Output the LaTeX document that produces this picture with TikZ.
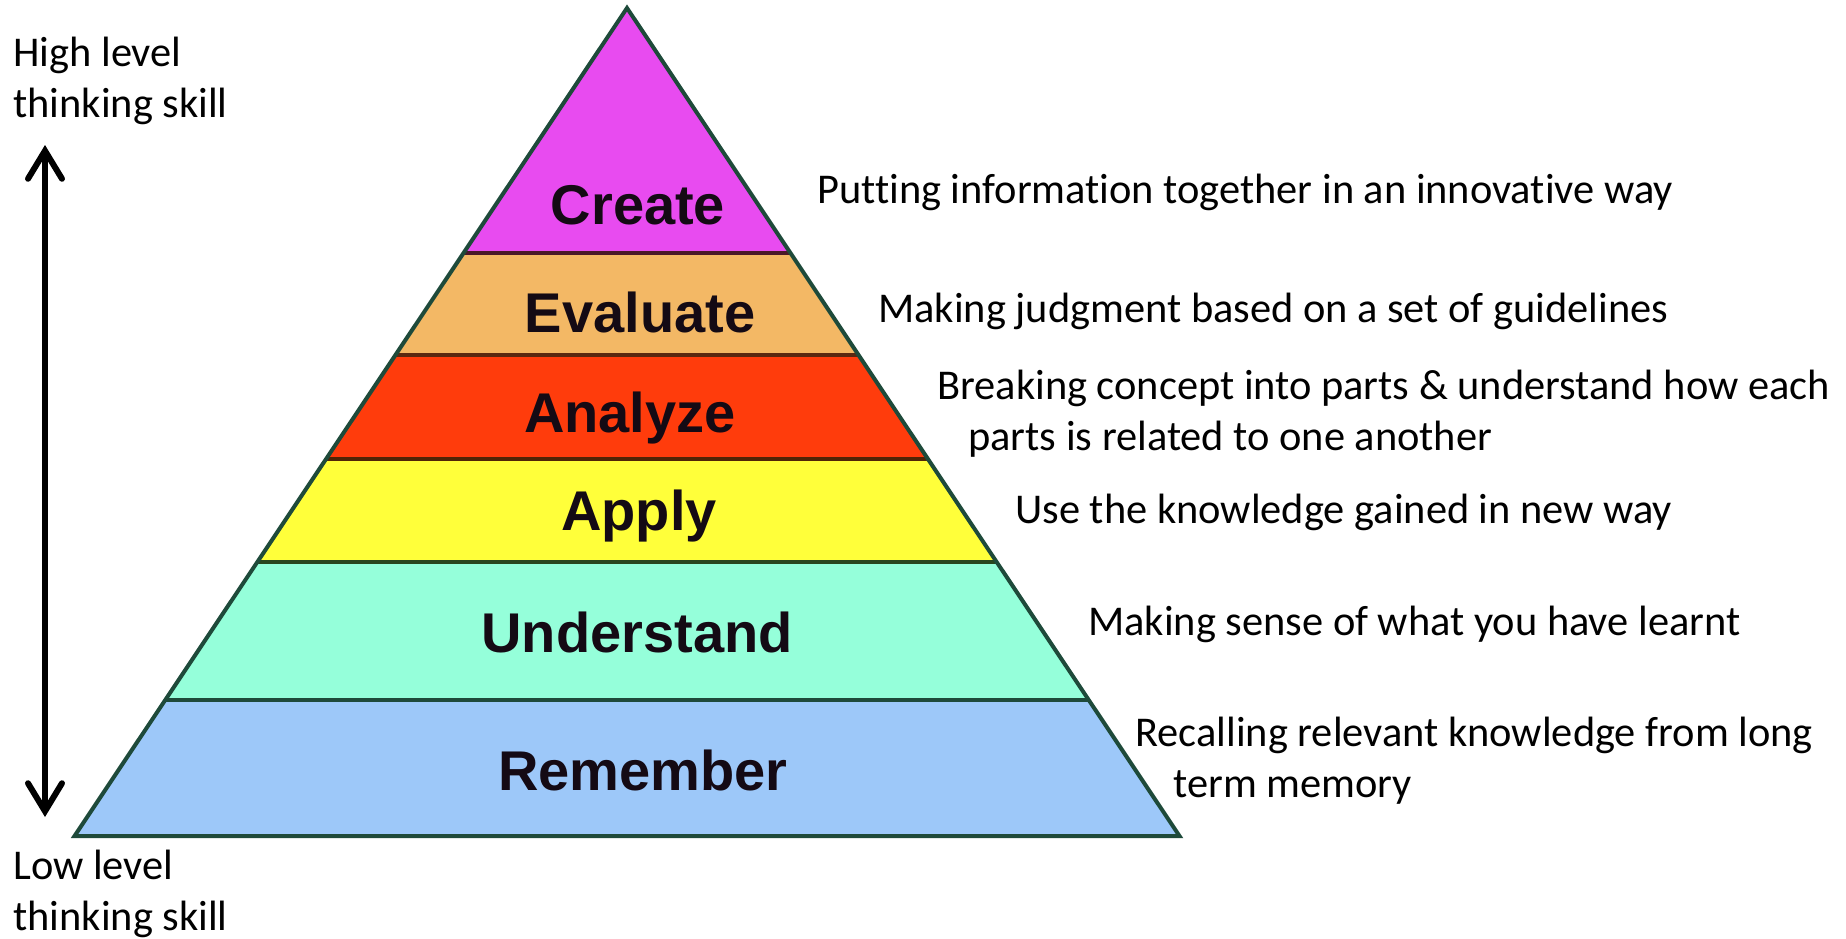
\documentclass[tikz,border=0pt]{standalone}
\usepackage{fontspec}
\setmainfont{Carlito}[Ligatures=NoCommon]
\newfontfamily\lblfont{Liberation Sans}
\usetikzlibrary{arrows.meta}
\definecolor{cCreate}{HTML}{E84BF0}
\definecolor{cEvaluate}{HTML}{F3B865}
\definecolor{cAnalyze}{HTML}{FF3C0C}
\definecolor{cApply}{HTML}{FFFF3A}
\definecolor{cUnderstand}{HTML}{95FFDA}
\definecolor{cRemember}{HTML}{9DC8F9}
\definecolor{edge}{HTML}{1E4A3A}
\definecolor{lbltext}{HTML}{140A14}
\begin{document}
\begin{tikzpicture}[x=0.5pt,y=-0.5pt,
  bandlabel/.style={anchor=base,inner sep=0pt,text=lbltext,
    font=\lblfont\bfseries\fontsize{28pt}{30pt}\selectfont},
  desc/.style={anchor=base west,inner sep=0pt,align=left,
    font=\fontsize{21.2pt}{25.5pt}\selectfont},
  sideline/.style={edge,line width=2pt,line join=miter},
  divider/.style={line width=1.8pt}]
\useasboundingbox (0,0) rectangle (1846,938);

% pyramid bands, top to bottom
\fill[cCreate]     (627,8) -- (790.5,253) -- (463.5,253) -- cycle;
\fill[cEvaluate]   (463.5,253) -- (790.5,253) -- (858.5,355) -- (395.5,355) -- cycle;
\fill[cAnalyze]    (395.5,355) -- (858.5,355) -- (927.9,459) -- (326.1,459) -- cycle;
\fill[cApply]      (326.1,459) -- (927.9,459) -- (996.7,562) -- (257.3,562) -- cycle;
\fill[cUnderstand] (257.3,562) -- (996.7,562) -- (1088.7,700) -- (165.3,700) -- cycle;
\fill[cRemember]   (165.3,700) -- (1088.7,700) -- (1179.5,836) -- (74.5,836) -- cycle;

% band dividers
\draw[divider,color={rgb,255:red,74;green,24;blue,40}] (463.5,253) -- (790.5,253);
\draw[divider,color={rgb,255:red,90;green,40;blue,16}] (395.5,355) -- (858.5,355);
\draw[divider,color={rgb,255:red,80;green,36;blue,6}]  (326.1,459) -- (927.9,459);
\draw[divider,color={rgb,255:red,40;green,70;blue,30}] (257.3,562) -- (996.7,562);
\draw[divider,color=edge] (165.3,700) -- (1088.7,700);

% outline of the pyramid
\draw[sideline] (627,8) -- (1179.5,836) -- (74.5,836) -- cycle;

% level names
\node[bandlabel] (create)     at (638,224) {Create};
\node[bandlabel] (evaluate)   at (640,332) {Evaluate};
\node[bandlabel] (analyze)    at (630,432) {Analyze};
\node[bandlabel] (apply)      at (639,530) {Apply};
\node[bandlabel] (understand) at (637,652) {Understand};
\node[bandlabel] (remember)   at (643,790) {Remember};

% descriptions (base = baseline of the last line)
\node[desc] (dcreate)     at (817,203) {Putting information together in an innovative way};
\node[desc] (devaluate)   at (878,322) {Making judgment based on a set of guidelines};
\node[desc] (danalyze)    at (937,450) {Breaking concept into parts \& understand how each\\\hspace*{15.5pt}parts is related to one another};
\node[desc] (dapply)      at (1015,523) {Use the knowledge gained in new way};
\node[desc] (dunderstand) at (1088,635) {Making sense of what you have learnt};
\node[desc] (dremember)   at (1135,797) {Recalling relevant knowledge from long\\\hspace*{19pt}term memory};

% thinking-skill scale
\node[desc] (high) at (13,117) {High level\\thinking skill};
\node[desc] (low)  at (13,930) {Low level\\thinking skill};
\coordinate (top) at (45,145);
\coordinate (bot) at (45,817);
\draw[line width=3pt,line cap=round,
  {Straight Barb[length=14pt,width=17pt,line width=3pt,line cap=round]}-{Straight Barb[length=14pt,width=17pt,line width=3pt,line cap=round]}]
  (top) -- (bot);
\end{tikzpicture}
\end{document}
